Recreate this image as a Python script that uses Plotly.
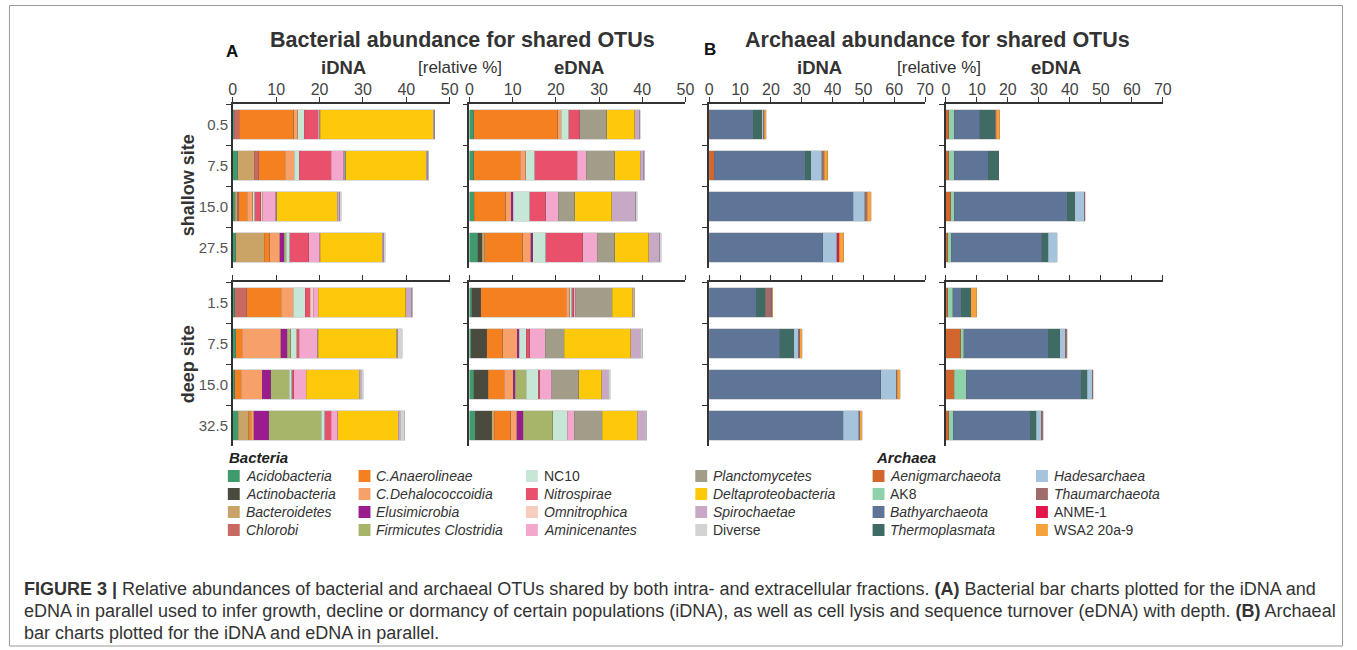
import plotly.graph_objects as go

W, H = 1357, 650
FONT = "Liberation Sans, Arial, sans-serif"

# ---------------- data ----------------
SHALLOW_DEPTHS = ["0.5", "7.5", "15.0", "27.5"]
DEEP_DEPTHS = ["1.5", "7.5", "15.0", "32.5"]

BACT_TAXA = ["Acidobacteria", "Actinobacteria", "Bacteroidetes", "Chlorobi",
             "C.Anaerolineae", "C.Dehalococcoidia", "Elusimicrobia", "Firmicutes Clostridia",
             "NC10", "Nitrospirae", "Omnitrophica", "Aminicenantes",
             "Planctomycetes", "Deltaproteobacteria", "Spirochaetae", "Diverse"]
BACT_COLORS = ["#3f9b6e", "#4b4a3f", "#c9a466", "#c86a62",
               "#f4801f", "#f7a06a", "#9b1c8e", "#a7b56b",
               "#c7e7d6", "#e8506c", "#f6cdbd", "#f3a7cc",
               "#a29d88", "#ffc90b", "#c7a9c6", "#d3d3d3"]
BACT_ITALIC = [True, True, True, True, True, True, True, True,
               False, True, True, True, True, True, True, False]

ARCH_TAXA = ["Aenigmarchaeota", "AK8", "Bathyarchaeota", "Thermoplasmata",
             "Hadesarchaea", "Thaumarchaeota", "ANME-1", "WSA2 20a-9"]
ARCH_COLORS = ["#d2672e", "#8fd1a9", "#5f7598", "#3e6b63",
               "#a5c3da", "#a06c6b", "#e3164b", "#f6a23c"]
ARCH_ITALIC = [True, False, True, True, True, True, False, False]

# rows = depths, columns = taxa (relative %)
BACT_IDNA_SHALLOW = [
    [0.3, 0, 0, 1.2, 12.6, 0.9, 0, 0, 1.5, 3.2, 0, 0.2, 0.3, 26.0, 0.3, 0.1],
    [1.1, 0, 3.8, 1.1, 6.1, 2.1, 0, 0, 1.1, 7.4, 0, 2.9, 0.4, 18.6, 0.4, 0.2],
    [0.6, 0, 0.4, 0.4, 1.9, 1.3, 0, 0, 0.5, 1.4, 0.4, 3.0, 0.2, 14.0, 0.6, 0.3],
    [0.7, 0, 6.5, 0, 1.3, 2.3, 1.1, 0.4, 0.8, 4.4, 0, 2.5, 0.2, 14.3, 0.3, 0.3],
]
BACT_IDNA_DEEP = [
    [0.5, 0, 0, 2.7, 8.0, 2.7, 0, 0, 2.8, 1.1, 0.8, 1.1, 0, 20.2, 1.4, 0.2],
    [0.7, 0, 0, 0, 1.5, 8.8, 1.5, 0.9, 1.4, 0.5, 0, 4.2, 0.2, 18.1, 0.2, 1.1],
    [0.5, 0, 0, 0, 1.4, 4.9, 1.9, 4.3, 0.6, 0.5, 0, 2.8, 0, 12.3, 0.4, 0.5],
    [1.3, 0, 2.4, 0, 0.6, 0.5, 3.5, 12.1, 0.8, 1.5, 0, 1.5, 0, 13.9, 0.5, 1.0],
]
BACT_EDNA_SHALLOW = [
    [1.0, 0, 0, 0, 19.4, 0.8, 0, 0, 1.8, 2.5, 0, 0, 6.3, 6.5, 1.1, 0.2],
    [1.0, 0, 0, 0, 10.7, 1.3, 0, 0, 2.1, 9.8, 0, 2.1, 6.6, 5.9, 0.9, 0.2],
    [1.1, 0, 0, 0, 7.3, 1.3, 0.4, 0, 3.9, 3.7, 0, 2.9, 3.8, 8.5, 5.6, 0.4],
    [1.9, 1.1, 0.5, 0, 8.8, 1.9, 0.4, 0, 3.1, 8.5, 0, 3.4, 4.0, 7.9, 2.6, 0.3],
]
BACT_EDNA_DEEP = [
    [0.5, 2.1, 0, 0, 19.8, 0.8, 0, 0, 0.5, 0.4, 0, 0.4, 8.6, 4.7, 0.4, 0.1],
    [0.4, 3.6, 0, 0, 3.7, 3.4, 0.4, 0, 1.7, 0.8, 0, 3.5, 4.4, 15.4, 2.3, 0.5],
    [1.0, 3.4, 0, 0, 3.6, 2.1, 0.5, 2.5, 2.8, 0.4, 0, 2.7, 6.3, 5.3, 1.5, 0.5],
    [1.3, 3.8, 0.6, 0, 3.8, 1.4, 1.5, 6.9, 3.3, 0, 0, 1.7, 6.5, 8.1, 1.8, 0.3],
]
ARCH_IDNA_SHALLOW = [
    [0.2, 0, 14.1, 2.7, 0.5, 0.4, 0, 0.6],
    [1.6, 0, 29.6, 1.8, 3.5, 0.8, 0, 1.1],
    [0.1, 0, 46.6, 0, 3.8, 0.7, 0, 1.3],
    [0, 0, 36.8, 0, 4.6, 0.2, 0.6, 1.5],
]
ARCH_IDNA_DEEP = [
    [0, 0, 15.3, 2.9, 0, 2.1, 0, 0.3],
    [0, 0, 22.8, 4.6, 1.5, 0.4, 0, 0.8],
    [0, 0, 55.7, 0, 4.9, 0.3, 0, 1.0],
    [0, 0, 43.4, 0, 5.1, 0.3, 0, 0.8],
]
ARCH_EDNA_SHALLOW = [
    [0.9, 1.8, 8.3, 5.0, 0, 0.3, 0, 1.1],
    [0.9, 1.8, 11.0, 3.4, 0, 0, 0, 0],
    [1.6, 1.1, 36.5, 2.4, 3.1, 0.3, 0, 0],
    [0.6, 1.1, 29.3, 2.1, 2.9, 0, 0, 0],
]
ARCH_EDNA_DEEP = [
    [0.6, 1.6, 2.7, 3.2, 0, 0, 0, 1.8],
    [4.8, 0.9, 27.4, 3.7, 1.8, 0.5, 0, 0],
    [2.7, 3.8, 37.2, 2.0, 1.6, 0.3, 0, 0],
    [0.9, 1.4, 25.0, 1.8, 1.6, 0.7, 0, 0],
]

BACT_TICKS = [0, 10, 20, 30, 40, 50]
ARCH_TICKS = [0, 10, 20, 30, 40, 50, 60, 70]

# ---------------- layout helpers ----------------
def px(x):
    return x / W

def py(y):
    return 1 - y / H

COL_X = [(231, 450), (470, 688), (712, 930), (951, 1170)]
ROW_Y = [(104, 268), (282, 446)]

panels = [
    # (row, col, data, depths, taxa, colors, ticks)
    (0, 0, BACT_IDNA_SHALLOW, SHALLOW_DEPTHS, BACT_TAXA, BACT_COLORS, BACT_TICKS),
    (0, 1, BACT_EDNA_SHALLOW, SHALLOW_DEPTHS, BACT_TAXA, BACT_COLORS, BACT_TICKS),
    (0, 2, ARCH_IDNA_SHALLOW, SHALLOW_DEPTHS, ARCH_TAXA, ARCH_COLORS, ARCH_TICKS),
    (0, 3, ARCH_EDNA_SHALLOW, SHALLOW_DEPTHS, ARCH_TAXA, ARCH_COLORS, ARCH_TICKS),
    (1, 0, BACT_IDNA_DEEP, DEEP_DEPTHS, BACT_TAXA, BACT_COLORS, BACT_TICKS),
    (1, 1, BACT_EDNA_DEEP, DEEP_DEPTHS, BACT_TAXA, BACT_COLORS, BACT_TICKS),
    (1, 2, ARCH_IDNA_DEEP, DEEP_DEPTHS, ARCH_TAXA, ARCH_COLORS, ARCH_TICKS),
    (1, 3, ARCH_EDNA_DEEP, DEEP_DEPTHS, ARCH_TAXA, ARCH_COLORS, ARCH_TICKS),
]

fig = go.Figure()
layout = dict(
    width=W, height=H, autosize=False,
    margin=dict(l=0, r=0, t=0, b=0),
    paper_bgcolor="white", plot_bgcolor="rgba(0,0,0,0)",
    barmode="stack", bargap=0.29, showlegend=False,
    font=dict(family=FONT, color="#333"),
)

AXC = "#333333"
for k, (r, c, data, depths, taxa, colors, ticks) in enumerate(panels, start=1):
    xa, ya = f"x{k}", f"y{k}"
    for j, name in enumerate(taxa):
        vals = [row[j] if row[j] > 0 else None for row in data]
        fig.add_trace(go.Bar(
            x=vals, y=depths, orientation="h", name=name,
            marker=dict(color=colors[j], line=dict(width=0.5, color="rgba(90,90,90,0.45)")),
            xaxis=xa, yaxis=ya, hoverinfo="x+name",
        ))
    x0, x1 = COL_X[c]
    y0, y1 = ROW_Y[r]
    layout[f"xaxis{k}"] = dict(
        domain=[px(x0), px(x1)], range=[0, ticks[-1]], anchor=ya, side="top",
        tickmode="array", tickvals=ticks, ticktext=[str(t) for t in ticks],
        showticklabels=(r == 0), ticks="outside", ticklen=5, tickwidth=1.3, tickcolor=AXC,
        showline=True, linecolor=AXC, linewidth=1.6, showgrid=False, zeroline=False,
        ticklabelstandoff=-4,
        tickfont=dict(size=16, color="#444", family=FONT),
    )
    layout[f"yaxis{k}"] = dict(
        domain=[py(y1), py(y0)], anchor=xa, type="category",
        categoryorder="array", categoryarray=depths, autorange="reversed",
        showticklabels=(c == 0), ticks="outside", tickson="boundaries",
        ticklen=5, tickwidth=1.3, tickcolor=AXC,
        showline=True, linecolor=AXC, linewidth=1.6, showgrid=False, zeroline=False,
        tickfont=dict(size=15, color="#555", family=FONT),
    )

ann = []

def text(x, y, s, size, bold=False, italic=False, xanchor="center", color="#333", angle=0):
    if bold:
        s = f"<b>{s}</b>"
    if italic:
        s = f"<i>{s}</i>"
    ann.append(dict(x=px(x), y=py(y), xref="paper", yref="paper", text=s, showarrow=False,
                    xanchor=xanchor, yanchor="middle", textangle=angle,
                    font=dict(size=size, color=color, family=FONT)))

# titles
text(463, 40, "Bacterial abundance for shared OTUs", 21.5, bold=True)
text(943, 40, "Archaeal abundance for shared OTUs", 21.5, bold=True)
text(230, 51, "A", 17, bold=True, color="#111")
text(713, 50, "B", 17, bold=True, color="#111")
text(343, 68, "iDNA", 18.5, bold=True)
text(460, 68, "[relative %]", 17)
text(581, 68, "eDNA", 18.5, bold=True)
text(823, 68, "iDNA", 18.5, bold=True)
text(944, 68, "[relative %]", 17)
text(1062, 68, "eDNA", 18.5, bold=True)
text(186, 185, "shallow site", 18, bold=True, angle=-90)
text(186, 364, "deep site", 18, bold=True, angle=-90)

# legend
shapes = []
ROWS = [476, 494, 512, 530]
SQ = 12

def swatch(x, y, color):
    shapes.append(dict(type="rect", xref="paper", yref="paper",
                       x0=px(x), x1=px(x + SQ), y0=py(y + SQ / 2), y1=py(y - SQ / 2),
                       fillcolor=color, line=dict(width=0)))

text(225, 457, "Bacteria", 15, bold=True, italic=True, xanchor="left", color="#222")
text(878, 457, "Archaea", 15, bold=True, italic=True, xanchor="left", color="#222")
BACT_COLS_X = [226, 358, 527, 698]
for j, name in enumerate(BACT_TAXA):
    cx = BACT_COLS_X[j // 4]
    cy = ROWS[j % 4]
    swatch(cx, cy, BACT_COLORS[j])
    text(cx + 16, cy, name, 14, italic=BACT_ITALIC[j], xanchor="left")
ARCH_COLS_X = [877, 1042]
for j, name in enumerate(ARCH_TAXA):
    cx = ARCH_COLS_X[j // 4]
    cy = ROWS[j % 4]
    swatch(cx, cy, ARCH_COLORS[j])
    text(cx + 16, cy, name, 14, italic=ARCH_ITALIC[j], xanchor="left")

# caption
CAPTION = [
    "<b>FIGURE 3 |</b> Relative abundances of bacterial and archaeal OTUs shared by both intra- and "
    "extracellular fractions. <b>(A)</b> Bacterial bar charts plotted for the iDNA and",
    "eDNA in parallel used to infer growth, decline or dormancy of certain populations (iDNA), as well as "
    "cell lysis and sequence turnover (eDNA) with depth. <b>(B)</b> Archaeal",
    "bar charts plotted for the iDNA and eDNA in parallel.",
]
for i, line in enumerate(CAPTION):
    text(18, 589 + 22 * i, line, 18, xanchor="left", color="#333")

# frame
shapes.append(dict(type="rect", xref="paper", yref="paper",
                   x0=px(5.5), x1=px(1351.5), y0=py(646), y1=py(5.5),
                   line=dict(color="#9a9a9a", width=1), fillcolor="rgba(0,0,0,0)"))

layout["annotations"] = ann
layout["shapes"] = shapes
fig.update_layout(**layout)
fig.write_html("out.html", config={"displayModeBar": False},
               post_script="document.body.style.margin='0';document.body.style.overflow='hidden';")
